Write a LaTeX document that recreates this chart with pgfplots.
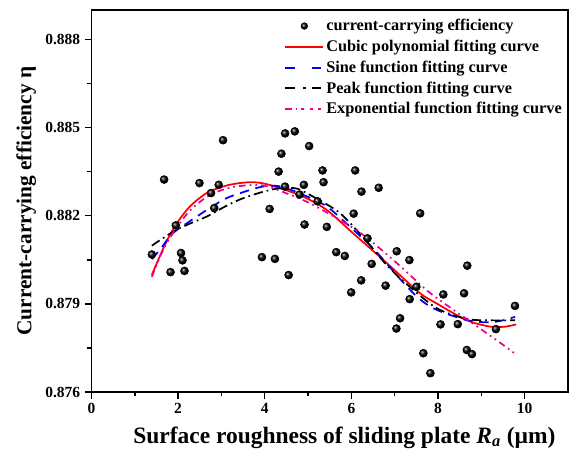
\documentclass[border=0pt]{standalone}
\usepackage{fontspec}
\setmainfont{Liberation Serif}
\usepackage{pgfplots}
\pgfplotsset{compat=1.18}
\begin{document}
\begin{tikzpicture}
\begin{axis}[
  scale only axis,
  width=357.4pt, height=286.5pt,
  xmin=0, xmax=11, ymin=0.876, ymax=0.889,
  axis line style={line width=1.1pt},
  xtick={0,2,4,6,8,10}, minor xtick={1,3,5,7,9},
  ytick={0.876,0.879,0.882,0.885,0.888}, minor ytick={0.8775,0.8805,0.8835,0.8865},
  tick align=outside, tick pos=left,
  major tick length=5pt, minor tick length=3pt,
  tick style={black, line width=1.1pt},
  ticklabel style={font=\fontsize{11.6}{13}\selectfont\bfseries},
  /pgf/number format/assume math mode=true,
  yticklabel style={/pgf/number format/.cd, fixed, fixed zerofill, precision=3},
  scaled y ticks=false,
  xlabel={Surface roughness of sliding plate \textit{R\textsubscript{a}} (µm)},
  ylabel={Current-carrying efficiency η},
  xlabel style={font=\fontsize{17.6}{19}\selectfont\bfseries, yshift=-3pt, xshift=11pt},
  ylabel style={font=\fontsize{16}{18}\selectfont\bfseries},
  legend style={at={(rel axis cs:1.0,0.985)}, anchor=north east, draw=none, fill=none,
    font=\fontsize{12.2}{14}\selectfont\bfseries, row sep=4.5pt,
    nodes={inner xsep=1.5pt, inner ysep=0.5pt}},
  legend cell align=left,
  legend image code/.code={\draw[#1] plot coordinates {(0cm,0cm) (1cm,0cm)};},
]
\addplot[only marks, mark=ball, mark size=3pt, mark options={ball color=black},
  legend image code/.code={\draw[mark=ball, mark size=2.5pt, mark options={ball color=black}] plot coordinates {(0.5cm,0cm)};}]
table[row sep=\\] {
x y\\
1.394 0.88068\\
1.677 0.88323\\
1.825 0.88008\\
1.947 0.88167\\
2.067 0.88073\\
2.101 0.88048\\
2.147 0.88012\\
2.493 0.88311\\
2.760 0.88277\\
2.834 0.88226\\
2.938 0.88305\\
3.037 0.88457\\
3.935 0.88059\\
4.113 0.88223\\
4.235 0.88053\\
4.320 0.88350\\
4.385 0.88411\\
4.470 0.88480\\
4.468 0.88299\\
4.551 0.87998\\
4.694 0.88487\\
4.903 0.88305\\
4.919 0.88170\\
5.025 0.88437\\
5.334 0.88354\\
5.357 0.88314\\
5.433 0.88162\\
5.650 0.88076\\
5.848 0.88063\\
5.995 0.87939\\
6.053 0.88207\\
6.088 0.88354\\
6.226 0.87980\\
6.233 0.88282\\
6.371 0.88123\\
6.468 0.88036\\
6.631 0.88295\\
6.790 0.87962\\
7.046 0.88079\\
7.039 0.87816\\
7.124 0.87851\\
7.339 0.88049\\
7.346 0.87916\\
7.500 0.87958\\
7.588 0.88208\\
7.661 0.87732\\
7.823 0.87664\\
8.058 0.87830\\
8.122 0.87932\\
8.456 0.87831\\
8.601 0.87936\\
8.664 0.87743\\
8.675 0.88030\\
8.783 0.87729\\
9.336 0.87814\\
9.776 0.87893\\
4.804 0.88272\\
5.219 0.88249\\
};
\addlegendentry{current-carrying efficiency}
\addplot[red, line width=1.3pt, smooth] table[row sep=\\] {
x y\\
1.394 0.87999\\
1.696 0.88101\\
1.947 0.88169\\
2.270 0.88231\\
2.661 0.88277\\
3.076 0.88301\\
3.422 0.88311\\
3.721 0.88314\\
3.998 0.88309\\
4.343 0.88294\\
4.873 0.88266\\
5.426 0.88220\\
6.025 0.88142\\
6.809 0.88040\\
7.569 0.87938\\
7.961 0.87902\\
8.652 0.87845\\
9.182 0.87823\\
9.528 0.87822\\
9.804 0.87830\\
};
\addlegendentry{Cubic polynomial fitting curve}
\addplot[blue, line width=1.3pt, smooth, dash pattern=on 7pt off 5pt,
  legend image code/.code={\draw[blue, line width=1.5pt] (0cm,0cm) -- (0.3cm,0cm) (0.7cm,0cm) -- (1cm,0cm);}]
table[row sep=\\] {
x y\\
1.394 0.88052\\
1.578 0.88084\\
1.878 0.88140\\
2.270 0.88181\\
2.730 0.88226\\
3.122 0.88260\\
3.583 0.88284\\
3.952 0.88299\\
4.343 0.88300\\
4.873 0.88272\\
5.426 0.88232\\
5.956 0.88164\\
6.532 0.88084\\
7.177 0.87976\\
7.569 0.87917\\
7.961 0.87880\\
8.652 0.87845\\
9.182 0.87837\\
9.528 0.87845\\
9.781 0.87856\\
};
\addlegendentry{Sine function fitting curve}
\addplot[black, line width=1.3pt, smooth, dash pattern=on 7pt off 3pt on 1.3pt off 3pt,
  legend image code/.code={\draw[black, line width=1.5pt] (0cm,0cm) -- (0.3cm,0cm) (0.46cm,0cm) -- (0.54cm,0cm) (0.7cm,0cm) -- (1cm,0cm);}]
table[row sep=\\] {
x y\\
1.394 0.88098\\
1.878 0.88145\\
2.270 0.88173\\
2.661 0.88197\\
3.030 0.88227\\
3.422 0.88255\\
3.882 0.88278\\
4.274 0.88292\\
4.574 0.88295\\
4.804 0.88289\\
5.196 0.88258\\
5.726 0.88210\\
6.256 0.88129\\
6.809 0.88033\\
7.270 0.87968\\
7.961 0.87886\\
8.652 0.87849\\
9.182 0.87844\\
9.781 0.87844\\
};
\addlegendentry{Peak function fitting curve}
\addplot[magenta, line width=1.3pt, smooth, dash pattern=on 5pt off 3pt on 1.3pt off 3pt on 1.3pt off 3pt,
  legend image code/.code={\draw[magenta, line width=1.5pt] (0cm,0cm) -- (0.3cm,0cm) (0.42cm,0cm) -- (0.5cm,0cm) (0.64cm,0cm) -- (0.72cm,0cm) (0.86cm,0cm) -- (0.94cm,0cm);}]
table[row sep=\\] {
x y\\
1.394 0.87992\\
1.624 0.88074\\
1.878 0.88140\\
2.270 0.88217\\
2.730 0.88270\\
3.191 0.88295\\
3.652 0.88304\\
3.998 0.88302\\
4.343 0.88285\\
5.035 0.88243\\
5.956 0.88166\\
6.417 0.88118\\
7.039 0.88040\\
7.500 0.87978\\
7.869 0.87931\\
8.652 0.87849\\
9.412 0.87770\\
9.781 0.87730\\
};
\addlegendentry{Exponential function fitting curve}
\end{axis}
\pgfresetboundingbox
\path[use as bounding box] ([xshift=-68.6pt,yshift=-49.5pt]current axis.south west) rectangle ([xshift=7.5pt,yshift=7.5pt]current axis.north east);
\end{tikzpicture}
\end{document}
